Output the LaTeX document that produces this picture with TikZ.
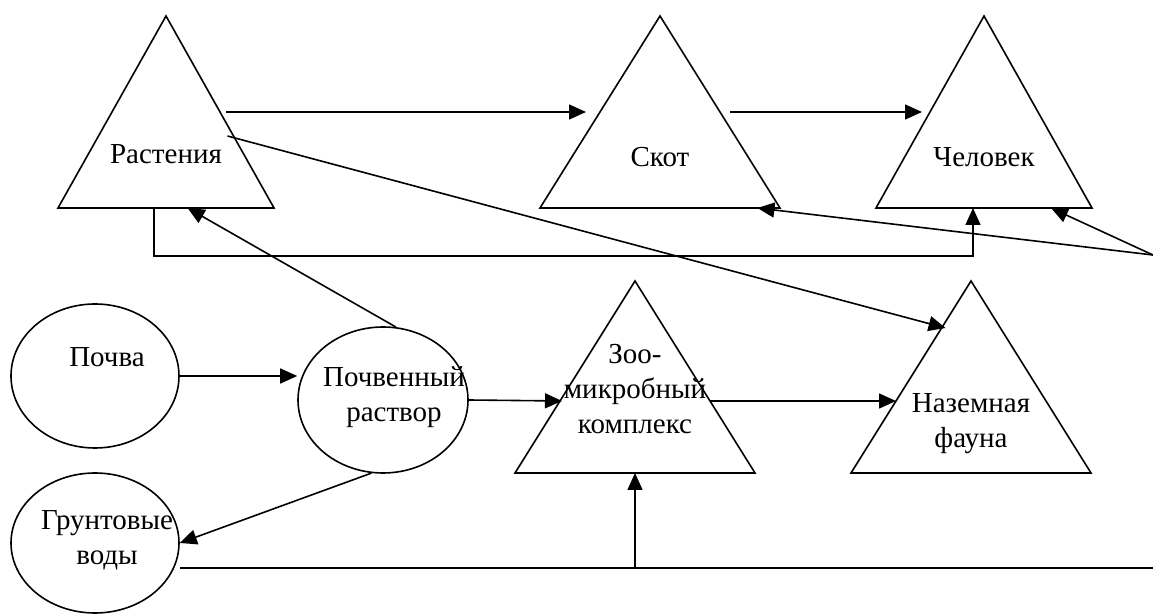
\documentclass[tikz,border=0pt]{standalone}
\usepackage{fontspec}
\setmainfont{Liberation Serif}
\usetikzlibrary{calc}
\usetikzlibrary{arrows.meta}
\usetikzlibrary{shapes.geometric}

\tikzset{
 lbl/.style={align=center, font=\fontsize{14.5}{17.5}\selectfont, inner sep=0pt},
 oval/.style={draw, ellipse, inner sep=0pt},
 arr/.style={-{Triangle[length=8.5pt,width=7.5pt]}},
}

\begin{document}
\begin{tikzpicture}[x=.5pt, y=-.5pt, line width=.8pt]
\useasboundingbox (0,0) rectangle (1153,614);
\foreach \n/\x/\y/\w in {rast/166/16/108, skot/660/16/120, chel/984/16/108, zoo/635/281/120, fauna/971/281/120} {
 \coordinate (\n-t) at (\x,\y);
 \coordinate (\n-l) at (\x-\w,\y+192);
 \coordinate (\n-r) at (\x+\w,\y+192);
 \draw (\n-t) -- (\n-l) -- (\n-r) -- cycle;
}
\node[oval, minimum width=84pt, minimum height=72pt] (pochva) at (95,376) {};
\node[oval, minimum width=85pt, minimum height=73pt] (rastvor) at (383,400) {};
\node[oval, minimum width=84pt, minimum height=70pt] (grunt) at (95,543) {};
\node[lbl] (t-rast) at (166,154) {Растения};
\node[lbl] (t-skot) at (660,157) {Скот};
\node[lbl] (t-chel) at (984,157) {Человек};
\node[lbl] (t-zoo) at (635,389) {Зоо-\\микробный\\комплекс};
\node[lbl] (t-fauna) at (971,424) {Наземная\\фауна};
\node[lbl] (t-pochva) at (107,357) {Почва};
\node[lbl] (t-rastvor) at (394,397) {Почвенный\\раствор};
\node[lbl] (t-grunt) at (107,540) {Грунтовые\\воды};
\coordinate (src) at (1153,255);
\coordinate (g1) at ([yshift=-12.5pt]grunt.east);
\coordinate (zoo-b) at ($(zoo-l)!.5!(zoo-r)$);
\draw[arr] ([xshift=3pt]$(rast-t)!.5!(rast-r)$) -- ([xshift=-7pt]$(skot-t)!.5!(skot-l)$);
\draw[arr] ([xshift=5pt]$(skot-t)!.5!(skot-r)$) -- ([xshift=-4pt]$(chel-t)!.5!(chel-l)$);
\draw[arr] ([xshift=-3pt]$(rast-t)!.625!(rast-r)$) -- ([xshift=2pt]$(fauna-t)!.245!(fauna-l)$);
\draw[arr] ($(rast-l)!.445!(rast-r)$) -- ++(0,48) -| ($(chel-l)!.449!(chel-r)$);
\draw[arr] (src) -- ($(skot-l)!.906!(skot-r)$);
\draw[arr] (src) -- ($(chel-l)!.81!(chel-r)$);
\draw[arr] (pochva.east) -- (pochva.east -| rastvor.west);
\draw[arr] (rastvor.80) -- ($(rast-l)!.6!(rast-r)$);
\draw[arr] (rastvor.east) -- ([xshift=1pt]$(zoo-t)!.625!(zoo-l)$);
\draw[arr] ($(zoo-t)!.625!(zoo-r)$) -- ($(fauna-t)!.625!(fauna-l)$);
\draw[arr] (rastvor.261) -- (grunt.east);
\draw (g1) -- (g1 -| src);
\draw[arr] (zoo-b |- g1) -- (zoo-b);
\end{tikzpicture}
\end{document}
